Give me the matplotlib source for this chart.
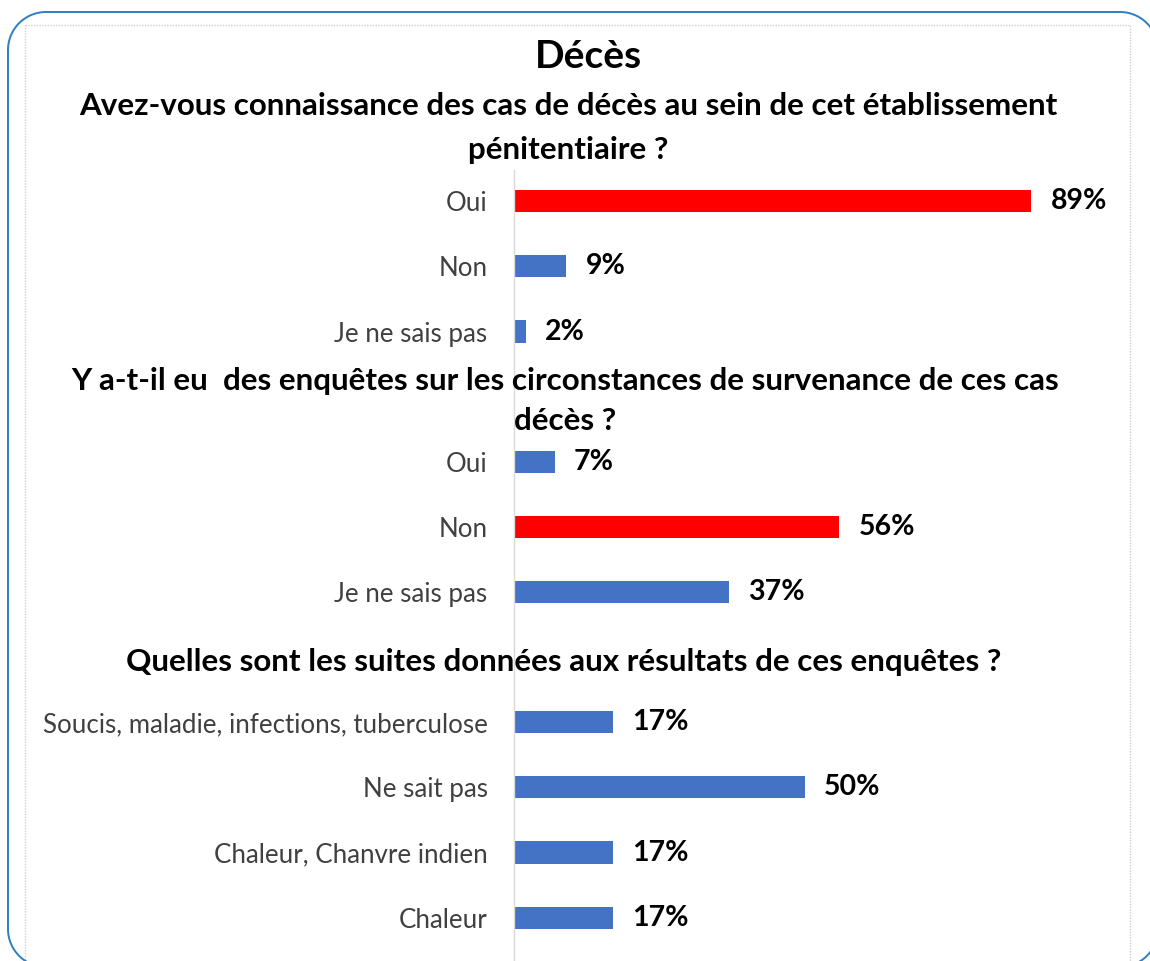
import numpy as np
import matplotlib
matplotlib.use("Agg")
import matplotlib.pyplot as plt
from matplotlib.patches import Rectangle

plt.rcParams['font.family'] = ['Lato', 'DejaVu Sans']

# données
q1_labels = ["Oui", "Non", "Je ne sais pas"]
q1_values = [89, 9, 2]
q2_labels = ["Oui", "Non", "Je ne sais pas"]
q2_values = [7, 56, 37]
q3_labels = ["Soucis, maladie, infections, tuberculose", "Ne sait pas",
             "Chaleur, Chanvre indien", "Chaleur"]
q3_values = [17, 50, 17, 17]
q1_highlight = "Oui"
q2_highlight = "Non"

titre = "Décès"
q1_title = ["Avez-vous connaissance des cas de décès au sein de cet établissement",
            "pénitentiaire ?"]
q2_title = ["Y a-t-il eu  des enquêtes sur les circonstances de survenance de ces cas",
            "décès ?"]
q3_title = ["Quelles sont les suites données aux résultats de ces enquêtes ?"]

BLUE = "#4472C4"
RED = "#FF0000"

W, H = 1150, 961
fig = plt.figure(figsize=(W / 100, H / 100), dpi=100)


def px(x, y):
    return x / W, 1 - y / H


def rounded_rect(left, top, right, bottom, r, n=30):
    # contour en pixels (y vers le bas)
    xs, ys = [], []
    corners = [(right - r, top + r, -90, 0), (right - r, bottom - r, 0, 90),
               (left + r, bottom - r, 90, 180), (left + r, top + r, 180, 270)]
    for cx, cy, a0, a1 in corners:
        t = np.radians(np.linspace(a0, a1, n))
        xs.extend(cx + r * np.cos(t))
        ys.extend(cy + r * np.sin(t))
    xs.append(xs[0])
    ys.append(ys[0])
    return np.array(xs), np.array(ys)


# cadre
bg = fig.add_axes([0, 0, 1, 1])
bg.set_xlim(0, W)
bg.set_ylim(H, 0)
bg.axis("off")
bx, by = rounded_rect(8, 12, 1158, 967, 38)
bg.plot(bx, by, color="#2E7EC0", lw=1.4)
bg.add_patch(Rectangle((25, 25), 1130 - 25, 960, fill=False,
                       ec="#cfcfcf", lw=1, ls=(0, (1, 1))))

# barres
labels = q1_labels + [""] + q2_labels + [""] + q3_labels
values = q1_values + [None] + q2_values + [None] + q3_values
colors = ([RED if l == q1_highlight else BLUE for l in q1_labels] + [None] +
          [RED if l == q2_highlight else BLUE for l in q2_labels] + [None] +
          [BLUE for l in q3_labels])

pos = np.arange(len(labels))
keep = [i for i, v in enumerate(values) if v is not None]

x0, x1 = 514, 1130
top, bot = 170, 960
ax = fig.add_axes([x0 / W, 1 - bot / H, (x1 - x0) / W, (bot - top) / H])
ax.barh(pos[keep], [values[i] for i in keep], height=0.34,
        color=[colors[i] for i in keep])
ax.set_xlim(0, 106)
ax.set_ylim(11.65, -0.48)
ax.set_yticks(pos[keep])
ax.set_yticklabels([labels[i] for i in keep], fontsize=18.6, color="#404040")
ax.tick_params(axis="y", length=0, pad=19)
ax.set_xticks([])
for s in ["top", "right", "bottom"]:
    ax.spines[s].set_visible(False)
ax.spines["left"].set_color("#d9d9d9")
ax.spines["left"].set_linewidth(1)
ax.patch.set_alpha(0)

for i in keep:
    ax.annotate(f"{values[i]}%", (values[i], pos[i]), xytext=(14, 0),
                textcoords="offset points", va="center", ha="left",
                fontsize=20.5, fontweight="bold", color="black")

# titres
fig.text(*px(588, 57), titre, ha="center", va="center", fontsize=28,
         fontweight="bold", zorder=5)
for (cx, ys, lines) in [(568, [106, 150], q1_title),
                        (565, [381, 421], q2_title),
                        (564, [662], q3_title)]:
    for y, line in zip(ys, lines):
        fig.text(*px(cx, y), line, ha="center", va="center", fontsize=22.6,
                 fontweight="bold", zorder=5)

fig.savefig("out.png", dpi=100)
